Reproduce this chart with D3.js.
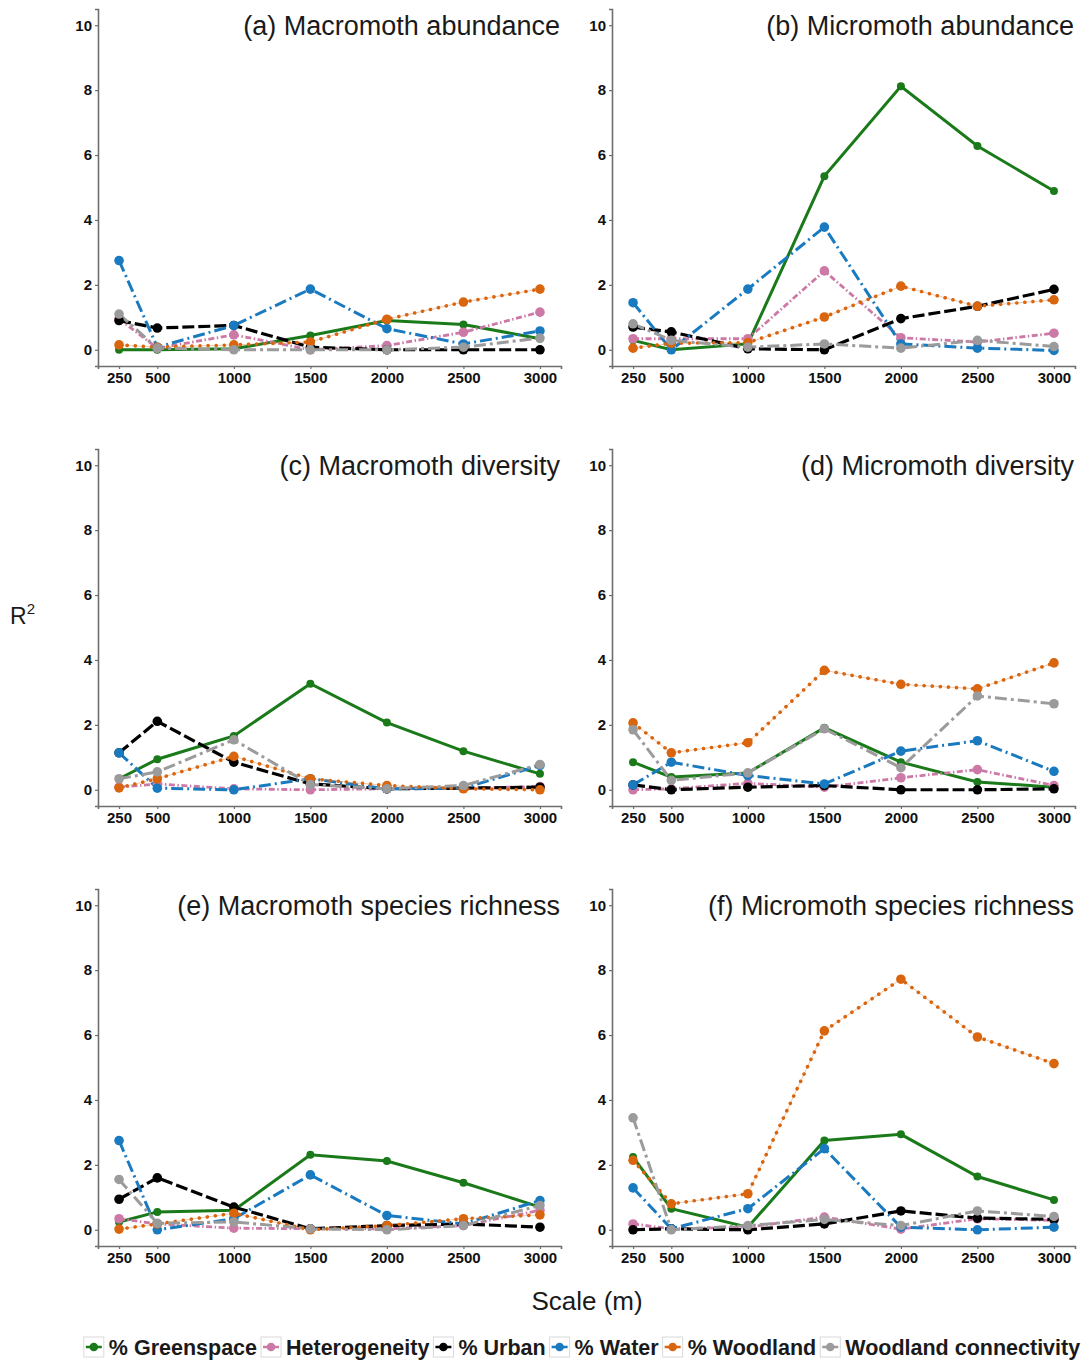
<!DOCTYPE html>
<html>
<head>
<meta charset="utf-8">
<script src="https://cdn.jsdelivr.net/npm/d3@7"></script>
<style>
  body { margin: 0; background: #fff; }
  svg text { font-family: "Liberation Sans", Arial, sans-serif; }
</style>
</head>
<body>
<div id="chart"></div>
<script>
// scales (m) on the x axis
var scales = [250, 500, 1000, 1500, 2000, 2500, 3000];
var xTicks = [250, 500, 1000, 1500, 2000, 2500, 3000];
var yTicks = [0, 2, 4, 6, 8, 10];

var seriesNames = ["% Greenspace", "Heterogeneity", "% Urban", "% Water", "% Woodland", "Woodland connectivity"];
var seriesColors = ["#1a7a1a", "#cc79a7", "#000000", "#1a7ac0", "#d9650f", "#9b9b9b"];

var panelTitles = ["(a) Macromoth abundance", "(b) Micromoth abundance",
  "(c) Macromoth diversity", "(d) Micromoth diversity",
  "(e) Macromoth species richness", "(f) Micromoth species richness"];

// R2 values, one row per series (same order as seriesNames)
var macroAbundance = [
  [0, 0, 0.03, 0.44, 0.9, 0.78, 0.34],
  [0.95, 0.05, 0.46, 0, 0.13, 0.54, 1.16],
  [0.9, 0.67, 0.75, 0.08, 0, 0, 0],
  [2.75, 0.08, 0.75, 1.87, 0.65, 0.18, 0.58],
  [0.15, 0.08, 0.15, 0.24, 0.94, 1.47, 1.87],
  [1.1, 0.05, 0, 0, 0, 0.08, 0.36]
];
var microAbundance = [
  [0.29, 0, 0.18, 5.35, 8.12, 6.28, 4.89],
  [0.34, 0.34, 0.34, 2.43, 0.37, 0.24, 0.51],
  [0.7, 0.55, 0.03, 0, 0.96, 1.34, 1.86],
  [1.45, 0, 1.87, 3.78, 0.18, 0.05, -0.02],
  [0.05, 0.2, 0.22, 1.01, 1.96, 1.34, 1.54],
  [0.8, 0.29, 0.08, 0.18, 0.05, 0.29, 0.1]
];
var macroDiversity = [
  [0.34, 0.94, 1.66, 3.27, 2.07, 1.19, 0.49],
  [0.08, 0.18, 0.03, 0, 0.03, 0.05, 0.1],
  [1.14, 2.11, 0.85, 0.18, 0.03, 0.05, 0.08],
  [1.14, 0.05, 0, 0.34, 0.03, 0.05, 0.75],
  [0.06, 0.34, 1.03, 0.34, 0.13, 0.03, 0],
  [0.34, 0.55, 1.54, 0.16, 0.03, 0.13, 0.78]
];
var microDiversity = [
  [0.85, 0.39, 0.52, 1.91, 0.85, 0.24, 0.08],
  [0, 0.03, 0.2, 0.08, 0.37, 0.62, 0.13],
  [0.15, 0, 0.08, 0.13, 0, 0, 0.03],
  [0.15, 0.85, 0.44, 0.18, 1.19, 1.51, 0.57],
  [2.06, 1.14, 1.45, 3.68, 3.25, 3.11, 3.91],
  [1.85, 0.29, 0.52, 1.88, 0.68, 2.89, 2.65]
];
var macroRichness = [
  [0.24, 0.55, 0.6, 2.31, 2.12, 1.45, 0.7],
  [0.34, 0.18, 0.05, 0.03, 0.03, 0.13, 0.6],
  [0.94, 1.6, 0.7, 0.03, 0.13, 0.18, 0.08],
  [2.75, 0, 0.34, 1.69, 0.44, 0.18, 0.9],
  [0.02, 0.18, 0.51, 0, 0.13, 0.34, 0.46],
  [1.55, 0.2, 0.24, 0.03, 0, 0.13, 0.75]
];
var microRichness = [
  [2.24, 0.65, 0.08, 2.75, 2.94, 1.64, 0.92],
  [0.18, 0.03, 0.08, 0.39, 0.02, 0.34, 0.29],
  [0, 0.03, 0, 0.18, 0.58, 0.36, 0.32],
  [1.29, 0.03, 0.65, 2.5, 0.08, 0, 0.08],
  [2.14, 0.8, 1.11, 6.13, 7.72, 5.94, 5.12],
  [3.45, 0, 0.13, 0.32, 0.13, 0.58, 0.41]
];

var panelData = [macroAbundance, microAbundance, macroDiversity, microDiversity, macroRichness, microRichness];

// line styles per series
var dashes = [null, "6,2.5,1.5,2.5", "12,4", "12,4,2,4", "0.1,8", "12,4,3,4"];
var widths = [3, 2.8, 3.2, 3, 3.6, 3];

var W = 1089, H = 1362;
var svg = d3.select("#chart").append("svg")
  .attr("width", W)
  .attr("height", H);

var plotW = 463, plotH = 357;
var colX = [98, 612];
var rowY = [9, 449, 889];

var x = d3.scaleLinear().domain([250 - 137.5, 3000 + 137.5]).range([0, plotW]);
var y = d3.scaleLinear().domain([-0.5, 10.5]).range([plotH, 0]);

var line = d3.line()
  .x(function(d) { return x(d.s); })
  .y(function(d) { return y(d.v); });

panelData.forEach(function(data, p) {
  var g = svg.append("g")
    .attr("transform", "translate(" + colX[p % 2] + "," + rowY[Math.floor(p / 2)] + ")");

  // axes
  var xAxis = g.append("g")
    .attr("transform", "translate(0," + plotH + ")")
    .call(d3.axisBottom(x).tickValues(xTicks).tickSize(3).tickPadding(3).tickFormat(d3.format("d")));
  var yAxis = g.append("g")
    .call(d3.axisLeft(y).tickValues(yTicks).tickSize(3).tickPadding(3));
  [xAxis, yAxis].forEach(function(ax) {
    ax.select(".domain").attr("stroke", "#6e6e6e").attr("stroke-width", 1.6);
    ax.selectAll(".tick line").attr("stroke", "#6e6e6e").attr("stroke-width", 1.2);
    ax.selectAll(".tick text")
      .attr("fill", "#111")
      .style("font-family", "Liberation Sans, Arial, sans-serif")
      .style("font-weight", "bold")
      .style("font-size", "15px");
  });

  // title
  g.append("text")
    .attr("x", plotW - 1)
    .attr("y", 26)
    .attr("text-anchor", "end")
    .attr("fill", "#1a1a1a")
    .style("font-size", "27px")
    .text(panelTitles[p]);

  var series = data.map(function(vals, i) {
    return { i: i, pts: vals.map(function(v, k) { return { s: scales[k], v: v }; }) };
  });

  // lines
  series.forEach(function(sr) {
    if (sr.i === 4) {
      g.append("path")
        .attr("d", line(sr.pts))
        .attr("fill", "none")
        .attr("stroke", seriesColors[4])
        .attr("stroke-opacity", 0.35)
        .attr("stroke-width", 1);
    }
    g.append("path")
      .attr("d", line(sr.pts))
      .attr("fill", "none")
      .attr("stroke", seriesColors[sr.i])
      .attr("stroke-width", widths[sr.i])
      .attr("stroke-linecap", sr.i === 4 ? "round" : "butt")
      .attr("stroke-dasharray", dashes[sr.i]);
  });

  // points
  series.forEach(function(sr) {
    g.selectAll(null)
      .data(sr.pts)
      .enter().append("circle")
      .attr("cx", function(d) { return x(d.s); })
      .attr("cy", function(d) { return y(d.v); })
      .attr("r", sr.i === 0 ? 4 : 4.8)
      .attr("fill", seriesColors[sr.i]);
  });
});

// y axis label
var rLab = svg.append("text")
  .attr("x", 10)
  .attr("y", 624)
  .attr("fill", "#1a1a1a")
  .style("font-size", "23px");
rLab.append("tspan").text("R");
rLab.append("tspan").attr("dy", -10).style("font-size", "15px").text("2");

// x axis label
svg.append("text")
  .attr("x", 587)
  .attr("y", 1310)
  .attr("text-anchor", "middle")
  .attr("fill", "#1a1a1a")
  .style("font-size", "26px")
  .text("Scale (m)");

// legend
var legend = svg.append("g");
var lx = 0;
seriesNames.forEach(function(name, i) {
  var item = legend.append("g").attr("transform", "translate(" + lx + ",0)");
  item.append("rect")
    .attr("x", 0).attr("y", -10)
    .attr("width", 20).attr("height", 20)
    .attr("fill", "#fff")
    .attr("stroke", "#d9d9d9");
  item.append("line")
    .attr("x1", 2).attr("x2", 18)
    .attr("stroke", seriesColors[i])
    .attr("stroke-width", 2.5);
  item.append("circle")
    .attr("cx", 10).attr("r", 4.3)
    .attr("fill", seriesColors[i]);
  var t = item.append("text")
    .attr("x", 25)
    .attr("y", 7.5)
    .attr("fill", "#1a1a1a")
    .style("font-weight", "bold")
    .style("font-size", "21.5px")
    .text(name);
  lx += 25 + t.node().getComputedTextLength() + 4;
});
var legW = lx - 4;
legend.attr("transform", "translate(" + (582 - legW / 2) + ",1347)");
</script>
</body>
</html>
